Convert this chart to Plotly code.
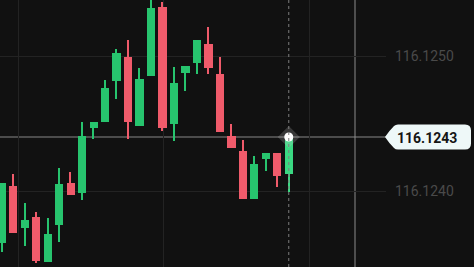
import plotly.graph_objects as go

# ---- data (prices) ----
opens  = [116.123615, 116.124037, 116.123726, 116.123807, 116.123474, 116.123748, 116.124059,
          116.123985, 116.124467, 116.124511, 116.124815, 116.124993, 116.124481, 116.124852,
          116.125363, 116.124496, 116.124874, 116.124948, 116.125089, 116.124867, 116.124407,
          116.124296, 116.123941, 116.124237, 116.124281, 116.124126]
highs  = [116.124059, 116.124126, 116.123911, 116.123844, 116.123800, 116.124170, 116.124141,
          116.124511, 116.124511, 116.124822, 116.125052, 116.125119, 116.124911, 116.125430,
          116.125400, 116.124919, 116.124926, 116.125119, 116.125215, 116.124993, 116.124496,
          116.124378, 116.124259, 116.124281, 116.124281, 116.124400]
lows   = [116.123548, 116.123689, 116.123593, 116.123467, 116.123474, 116.123622, 116.123970,
          116.123933, 116.124385, 116.124511, 116.124681, 116.124385, 116.124481, 116.124852,
          116.124444, 116.124370, 116.124741, 116.124867, 116.124867, 116.124437, 116.124319,
          116.123941, 116.123941, 116.124148, 116.124030, 116.123993]
closes = [116.124059, 116.123689, 116.123785, 116.123481, 116.123681, 116.124052, 116.123970,
          116.124407, 116.124511, 116.124763, 116.125022, 116.124511, 116.124830, 116.125356,
          116.124467, 116.124800, 116.124926, 116.125119, 116.124911, 116.124437, 116.124319,
          116.123941, 116.124200, 116.124281, 116.124111, 116.124400]
y_ticks = [116.1240, 116.1250]
cursor_price = 116.1244
cursor_label = "116.1243"
hover_index = 25

GREEN = "#27c46e"
RED = "#f05b6b"
HOVER_GREEN = "#3ad982"
BG = "#111111"
GRID = "#232323"

idx = list(range(len(opens)))
body_base = [min(o, c) for o, c in zip(opens, closes)]
body_h = [abs(c - o) for o, c in zip(opens, closes)]
wick_h = [h - l for h, l in zip(highs, lows)]
colors = []
for i, (o, c) in enumerate(zip(opens, closes)):
    if i == hover_index:
        colors.append(HOVER_GREEN)
    else:
        colors.append(GREEN if c >= o else RED)

fig = go.Figure()
fig.add_trace(go.Bar(x=idx, y=wick_h, base=lows, width=0.12,
                     marker=dict(color=colors, line=dict(width=0)), hoverinfo="skip"))
fig.add_trace(go.Bar(x=idx, y=body_h, base=body_base, width=0.72,
                     marker=dict(color=colors, line=dict(width=0)), hoverinfo="skip"))
# hover marker
fig.add_trace(go.Scatter(x=[hover_index], y=[cursor_price], mode="markers",
                         marker=dict(symbol="diamond", size=17, color="rgba(210,210,210,0.2)",
                                     line=dict(width=0)), hoverinfo="skip"))
fig.add_trace(go.Scatter(x=[hover_index], y=[cursor_price], mode="markers",
                         marker=dict(symbol="circle", size=9, color="white", line=dict(width=0)),
                         hoverinfo="skip"))

shapes = [
    # vertical dashed crosshair
    dict(type="line", xref="x", yref="paper", x0=hover_index, x1=hover_index, y0=0, y1=1,
         line=dict(color="#7e7e7e", width=1, dash="dot"), layer="above"),
    # horizontal crosshair
    dict(type="line", xref="paper", yref="y", x0=0, x1=1, y0=cursor_price, y1=cursor_price,
         line=dict(color="#888888", width=1), layer="below"),
    # solid vertical line
    dict(type="line", xref="paper", yref="paper", x0=0.9197, x1=0.9197, y0=0, y1=1,
         line=dict(color="#8c8c8c", width=1), layer="below"),
    # price label box
    dict(type="path", xref="paper", yref="y", xsizemode="pixel", ysizemode="pixel",
         xanchor=1, yanchor=cursor_price,
         path="M -1,0 Q 3,6 8,11 Q 9.5,12.5 12,12.5 L 79,12.5 Q 85,12.5 85,6.5 L 85,-6.5 "
              "Q 85,-12.5 79,-12.5 L 12,-12.5 Q 9.5,-12.5 8,-11 Q 3,-6 -1,0 Z",
         fillcolor="#eef8f8", line=dict(width=0), layer="above"),
]

fig.update_layout(
    width=474, height=267,
    margin=dict(l=0, r=88, t=0, b=0),
    paper_bgcolor=BG, plot_bgcolor=BG,
    showlegend=False, barmode="overlay", bargap=0,
    shapes=shapes,
    font=dict(family="Roboto", size=14, color="#4a4a4a"),
    xaxis=dict(range=[-0.157, 33.47], tickvals=[1.411, 14.129, 26.847], showticklabels=False,
               showgrid=True, gridcolor=GRID, gridwidth=1, zeroline=False, showline=False,
               fixedrange=True),
    yaxis=dict(range=[116.123437, 116.125415], tickvals=y_ticks, tickformat=".4f",
               side="right", showgrid=True, gridcolor=GRID, gridwidth=1, zeroline=False,
               showline=False, ticks="", ticklabelstandoff=8,
               tickfont=dict(family="Roboto", size=14, color="#4a4a4a"), fixedrange=True),
    annotations=[dict(xref="paper", yref="y", x=1, y=cursor_price, xanchor="left", yanchor="middle",
                      xshift=9, yshift=-1, text="<b>" + cursor_label + "</b>", showarrow=False,
                      font=dict(family="Roboto", size=14, color="#151515"))],
)

fig.write_html("out.html", config={"displayModeBar": False})
